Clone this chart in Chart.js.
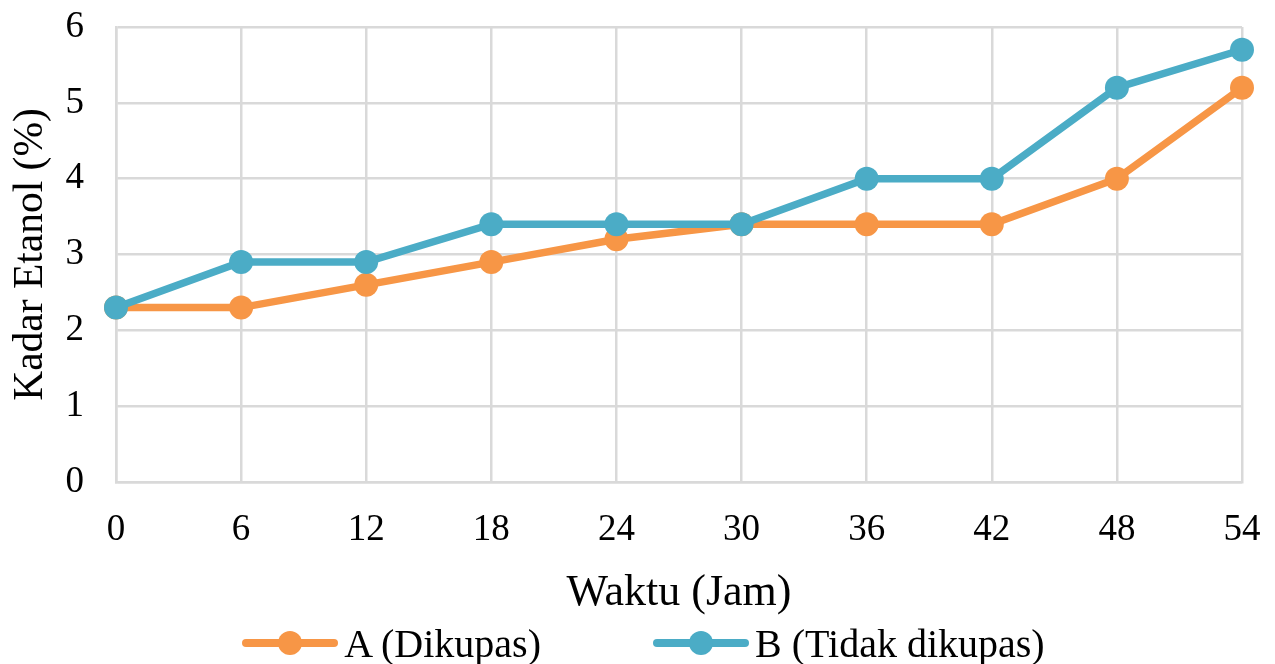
<!DOCTYPE html>
<html>
<head>
<meta charset="utf-8">
<script src="https://cdn.jsdelivr.net/npm/chart.js@4"></script>
<style>
  body { margin: 0; background: #fff; }
  #wrap { position: relative; width: 1275px; height: 664px; }
  #legend {
    position: absolute; left: 6px; top: 622px; width: 1275px; height: 42px;
    display: flex; justify-content: center; align-items: center;
    font-family: "Liberation Serif", "Times New Roman", serif; font-size: 40px; color: #000;
  }
  .item { display: flex; align-items: center; }
  .item + .item { margin-left: 112px; }
  .sym { position: relative; width: 96px; height: 24px; margin-right: 6px; }
  .sym .ln { position: absolute; left: 0; top: 8px; width: 96px; height: 8px; border-radius: 4px; }
  .sym .dot { position: absolute; left: 36px; top: 0px; width: 24px; height: 24px; border-radius: 50%; }
</style>
</head>
<body>
<div id="wrap">
  <canvas id="chart" width="1275" height="664"></canvas>
  <div id="legend"></div>
</div>
<script>
// Waktu (jam)
const hours = ["0", "6", "12", "18", "24", "30", "36", "42", "48", "54"];
// Kadar etanol (%)
const seriesA = [2.3, 2.3, 2.6, 2.9, 3.2, 3.4, 3.4, 3.4, 4.0, 5.2];
const seriesB = [2.3, 2.9, 2.9, 3.4, 3.4, 3.4, 4.0, 4.0, 5.2, 5.7];
const seriesNames = ["A (Dikupas)", "B (Tidak dikupas)"];
const colors = ["#F79646", "#4BACC6"];

const serif = "'Liberation Serif', 'Times New Roman', serif";

// legenda manual di bawah grafik
const legendEl = document.getElementById("legend");
seriesNames.forEach((name, i) => {
  const item = document.createElement("div");
  item.className = "item";
  item.innerHTML = `<span class="sym"><span class="ln" style="background:${colors[i]}"></span>` +
    `<span class="dot" style="background:${colors[i]}"></span></span><span>${name}</span>`;
  legendEl.appendChild(item);
});

const ctx = document.getElementById("chart").getContext("2d");
new Chart(ctx, {
  type: "line",
  data: {
    labels: hours,
    datasets: [
      {
        label: seriesNames[0],
        data: seriesA,
        borderColor: colors[0],
        backgroundColor: colors[0],
        borderWidth: 7.5,
        pointRadius: 12,
        pointBorderWidth: 0,
        order: 1
      },
      {
        label: seriesNames[1],
        data: seriesB,
        borderColor: colors[1],
        backgroundColor: colors[1],
        borderWidth: 7.5,
        pointRadius: 12,
        pointBorderWidth: 0,
        order: 0
      }
    ]
  },
  options: {
    responsive: false,
    animation: false,
    layout: { padding: { left: 0, right: 33, top: 27, bottom: 44 } },
    plugins: {
      legend: { display: false },
      tooltip: { enabled: false }
    },
    scales: {
      x: {
        grid: { color: "#d9d9d9", lineWidth: 2.5, drawTicks: false },
        border: { color: "#d9d9d9", width: 2.5 },
        ticks: { color: "#000", font: { family: serif, size: 37 }, padding: 26, maxRotation: 0 },
        title: { display: true, text: "Waktu (Jam)", color: "#000", font: { family: serif, size: 44 }, padding: 0 },
        // tinggi sumbu tetap supaya area plot sama dengan gambar asli
        afterFit: s => { s.height = 138; s.paddingLeft = 0; s.paddingRight = 0; }
      },
      y: {
        min: 0,
        max: 6,
        grid: { color: "#d9d9d9", lineWidth: 2.5, drawTicks: false },
        border: { color: "#d9d9d9", width: 2.5 },
        ticks: { stepSize: 1, color: "#000", font: { family: serif, size: 37 }, padding: 32 },
        title: { display: true, text: "Kadar Etanol (%)", color: "#000", font: { family: serif, size: 41.5 }, padding: { top: 6, bottom: 0 } },
        afterFit: s => { s.width = 116; s.paddingTop = 0; s.paddingBottom = 0; }
      }
    }
  }
});
</script>
</body>
</html>
